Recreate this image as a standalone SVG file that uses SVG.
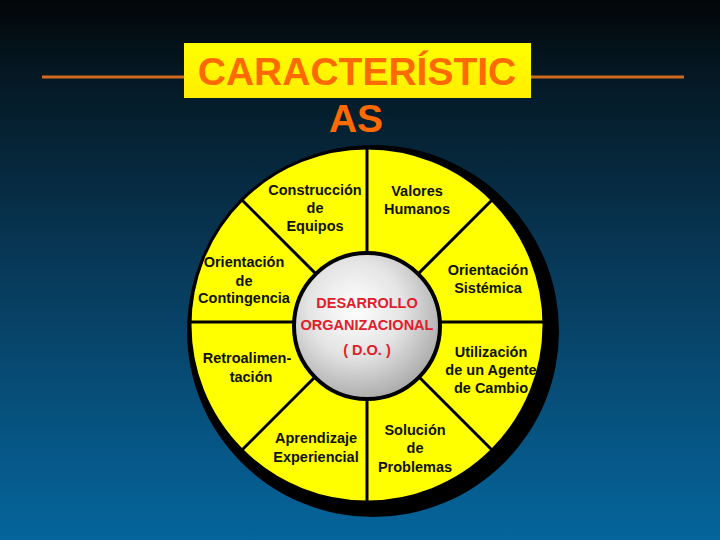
<svg xmlns="http://www.w3.org/2000/svg" width="720" height="540" viewBox="0 0 720 540">
<defs>
<linearGradient id="bg" x1="0" y1="0" x2="0" y2="1">
<stop offset="0" stop-color="#020608"/>
<stop offset="0.12" stop-color="#041620"/>
<stop offset="0.5" stop-color="#083a5a"/>
<stop offset="1" stop-color="#05659c"/>
</linearGradient>
<radialGradient id="sphere" cx="0.42" cy="0.38" r="0.65">
<stop offset="0" stop-color="#ffffff"/>
<stop offset="0.5" stop-color="#e4e4e4"/>
<stop offset="1" stop-color="#a8a8a8"/>
</radialGradient>
<linearGradient id="title" x1="0" y1="0" x2="0" y2="1">
<stop offset="0" stop-color="#ffff00"/>
<stop offset="1" stop-color="#ffee00"/>
</linearGradient>
</defs>
<style>
.seg{font-family:"Liberation Sans",Arial,sans-serif;font-weight:bold;font-size:14.5px;fill:#111;text-anchor:middle}
.ctr{font-family:"Liberation Sans",Arial,sans-serif;font-weight:bold;font-size:14.5px;fill:#e0202a;text-anchor:middle}
.ttl{font-family:"Liberation Sans",Arial,sans-serif;font-weight:bold;font-size:39px;fill:#ff6a00;text-anchor:middle}
.div{stroke:#000;stroke-width:3;fill:none}
</style>
<rect width="720" height="540" fill="url(#bg)"/>
<g id="title-lines">
<line x1="42" y1="77" x2="186" y2="77" stroke="#d06a20" stroke-width="3"/>
<line x1="530" y1="77" x2="684" y2="77" stroke="#d06a20" stroke-width="3"/>
</g>
<g id="title-node">
<rect x="184" y="43" width="347" height="55" fill="url(#title)"/>
<text class="ttl" x="357" y="85">CARACTERÍSTIC</text>
<text class="ttl" x="356" y="132">AS</text>
</g>
<g id="wheel">
<circle cx="373" cy="331" r="186" fill="#000"/>
<circle cx="367" cy="325" r="177" fill="#ffff00" stroke="#000" stroke-width="3"/>
</g>
<g id="connectors">
<line class="div" x1="367" y1="149" x2="367" y2="501"/>
<line class="div" x1="191" y1="322" x2="543" y2="322"/>
<line class="div" x1="241" y1="199" x2="493" y2="451"/>
<line class="div" x1="493" y1="199" x2="241" y2="451"/>
</g>
<g id="center">
<circle cx="367" cy="326" r="73" fill="url(#sphere)" stroke="#000" stroke-width="4"/>
<text class="ctr" x="367" y="308">DESARROLLO</text>
<text class="ctr" x="367" y="330">ORGANIZACIONAL</text>
<text class="ctr" x="367" y="355">( D.O. )</text>
</g>
<g id="seg-construccion">
<text class="seg" x="315" y="195">Construcción</text>
<text class="seg" x="315" y="213">de</text>
<text class="seg" x="315" y="231">Equipos</text>
</g>
<g id="seg-valores">
<text class="seg" x="417" y="196">Valores</text>
<text class="seg" x="417" y="214">Humanos</text>
</g>
<g id="seg-contingencia">
<text class="seg" x="244" y="267">Orientación</text>
<text class="seg" x="244" y="286">de</text>
<text class="seg" x="244" y="303">Contingencia</text>
</g>
<g id="seg-sistemica">
<text class="seg" x="488" y="275">Orientación</text>
<text class="seg" x="488" y="293">Sistémica</text>
</g>
<g id="seg-retro">
<text class="seg" x="247" y="363">Retroalimen-</text>
<text class="seg" x="251" y="382">tación</text>
</g>
<g id="seg-agente">
<text class="seg" x="491" y="357">Utilización</text>
<text class="seg" x="491" y="375">de un Agente</text>
<text class="seg" x="491" y="393">de Cambio</text>
</g>
<g id="seg-aprendizaje">
<text class="seg" x="316" y="443">Aprendizaje</text>
<text class="seg" x="316" y="462">Experiencial</text>
</g>
<g id="seg-solucion">
<text class="seg" x="415" y="435">Solución</text>
<text class="seg" x="415" y="453">de</text>
<text class="seg" x="415" y="472">Problemas</text>
</g>
</svg>
